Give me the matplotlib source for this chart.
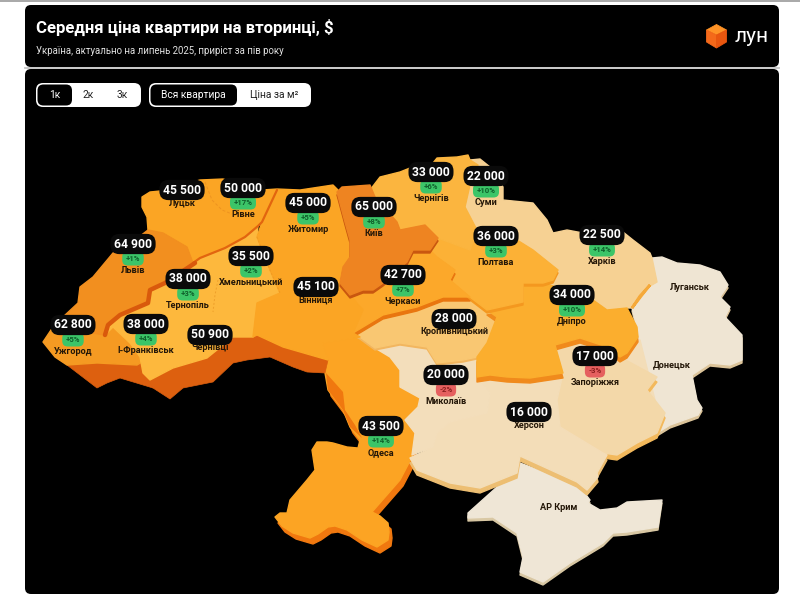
import matplotlib
matplotlib.use("Agg")
import matplotlib.pyplot as plt
from matplotlib.patches import FancyBboxPatch, Polygon

plt.rcParams["font.family"] = ["Roboto", "DejaVu Sans"]

# Label data
cities = ["Луцьк", "Рівне", "Житомир", "Київ", "Чернігів", "Суми", "Львів", "Хмельницький",
          "Вінниця", "Тернопіль", "Черкаси", "Полтава", "Харків", "Дніпро", "Кропивницький",
          "Ужгород", "І-Франківськ", "Чернівці", "Запоріжжя", "Миколаїв", "Херсон", "Одеса"]
prices = ["45 500", "50 000", "45 000", "65 000", "33 000", "22 000", "64 900", "35 500",
          "45 100", "38 000", "42 700", "36 000", "22 500", "34 000", "28 000",
          "62 800", "38 000", "50 900", "17 000", "20 000", "16 000", "43 500"]
growth = [None, 17, 5, 8, 6, 10, 1, 2, None, 3, 7, 3, 14, 10, None,
          5, 4, None, -3, -2, None, 14]
label_x = [182, 243, 308, 374, 431, 486, 133, 251, 316, 188, 403, 496, 602, 572, 454,
           73, 146, 210, 595, 446, 529, 381]
label_y = [190, 188, 203, 207, 172, 176, 244, 256, 287, 279, 275, 236, 235, 295, 319,
           325, 324, 335, 356, 375, 412, 426]
nodata_names = ["Луганськ", "Донецьк", "АР Крим"]
nodata_x = [690, 672, 559]
nodata_y = [288, 365, 508]

# Map outlines, in picture pixels
volyn_rivne = [(142, 197), (150, 192), (160, 191), (178, 186), (200, 180), (223, 179), (262, 190), (277, 190),
               (262, 222), (258, 226), (245, 237), (225, 248), (200, 258), (193, 263), (187, 247), (163, 233),
               (148, 230), (147, 217), (142, 207)]
lviv = [(148, 230), (163, 233), (187, 247), (193, 263), (165, 283), (150, 290), (148, 303), (120, 315),
        (108, 325), (105, 335), (53, 327), (63, 317), (78, 303), (80, 287), (93, 277), (113, 253), (135, 240)]
zakarpattia = [(43, 342), (53, 327), (105, 335), (113, 327), (130, 343), (140, 357), (142, 362), (137, 365),
               (97, 363), (67, 365), (55, 357)]
podillia = [(108, 325), (120, 315), (148, 303), (150, 290), (165, 283), (193, 264), (200, 258), (225, 248),
            (245, 237), (258, 226), (257, 237), (270, 270), (280, 293), (257, 303), (253, 337), (233, 337),
            (207, 358), (173, 368), (150, 380), (143, 373), (140, 357), (130, 343), (113, 327), (105, 335)]
zhytomyr_vinnytsia = [(262, 190), (277, 189), (300, 190), (333, 185), (338, 190), (345, 222), (350, 240),
                      (350, 257), (343, 267), (340, 283), (350, 295), (363, 310), (353, 333), (360, 337),
                      (322, 343), (328, 360), (283, 347), (257, 335), (253, 337), (257, 303), (280, 293),
                      (270, 270), (257, 237), (262, 222)]
kyiv = [(337, 192), (342, 187), (370, 185), (375, 197), (397, 222), (400, 230), (425, 225), (438, 238),
        (430, 250), (413, 250), (407, 262), (383, 283), (373, 290), (363, 290), (350, 295), (340, 283),
        (343, 267), (350, 257), (350, 240), (345, 222)]
chernihiv = [(370, 190), (380, 177), (400, 172), (410, 168), (433, 163), (437, 158), (457, 157), (468, 155),
             (470, 160), (478, 165), (470, 185), (465, 207), (477, 230), (470, 250), (438, 238), (425, 225),
             (400, 230), (397, 222), (375, 197)]
poltava = [(477, 230), (517, 240), (533, 250), (558, 270), (553, 280), (543, 283), (523, 283), (523, 302),
           (487, 310), (470, 297), (450, 280), (455, 270), (437, 257), (430, 250), (438, 238), (470, 250)]
cherkasy = [(413, 250), (430, 250), (437, 257), (455, 270), (450, 280), (470, 297), (443, 297), (417, 307),
            (383, 315), (353, 333), (363, 310), (350, 295), (363, 290), (373, 290), (383, 283), (407, 262)]
kirovohrad = [(353, 333), (383, 315), (417, 307), (443, 297), (470, 297), (487, 310), (497, 317), (487, 343),
              (477, 357), (463, 360), (437, 363), (427, 347), (400, 343), (375, 348), (360, 337)]
dnipro = [(487, 310), (523, 302), (523, 283), (550, 285), (593, 300), (607, 310), (627, 308), (637, 327),
          (638, 337), (627, 353), (620, 357), (607, 347), (580, 338), (555, 345), (563, 373), (530, 378),
          (507, 377), (490, 375), (477, 377), (477, 357), (487, 343), (497, 317)]
sumy_kharkiv = [(470, 160), (480, 159), (490, 167), (503, 187), (503, 200), (533, 203), (547, 220), (553, 233),
                (567, 230), (583, 233), (623, 232), (633, 240), (650, 253), (652, 258), (657, 282), (643, 290),
                (632, 308), (627, 308), (607, 310), (593, 300), (550, 285), (543, 283), (553, 280), (558, 270),
                (533, 250), (517, 240), (477, 230), (465, 207), (470, 185), (478, 165)]
east = [(652, 258), (662, 257), (677, 263), (700, 265), (720, 272), (728, 285), (720, 297), (730, 307),
        (725, 317), (742, 335), (742, 360), (730, 365), (710, 363), (692, 375), (695, 390), (697, 400),
        (702, 408), (698, 415), (670, 425), (657, 433), (665, 413), (663, 413), (647, 390), (657, 380),
        (627, 358), (638, 337), (637, 327), (632, 308), (643, 290), (657, 282)]
zaporizhzhia = [(555, 345), (580, 338), (607, 347), (620, 357), (657, 377), (647, 390), (665, 413), (657, 433),
                (637, 443), (617, 455), (603, 453), (560, 427), (557, 400), (563, 373)]
kherson = [(477, 377), (490, 375), (530, 378), (563, 373), (557, 400), (560, 427), (603, 453), (607, 455),
           (597, 473), (598, 477), (587, 490), (577, 482), (520, 456), (517, 473), (480, 488), (450, 483),
           (417, 470), (410, 458), (433, 447), (437, 433), (450, 422), (487, 413), (490, 393)]
mykolaiv = [(375, 348), (400, 343), (427, 347), (437, 363), (463, 360), (477, 357), (477, 377), (490, 393),
            (487, 413), (450, 422), (437, 433), (433, 447), (412, 455), (415, 433), (405, 420), (418, 407),
            (420, 398), (400, 387), (400, 370), (390, 357)]
odesa = [(322, 343), (360, 337), (375, 348), (390, 357), (400, 370), (400, 387), (420, 398), (418, 407),
         (405, 420), (415, 433), (412, 457), (400, 480), (372, 512), (380, 516), (388, 523), (389, 532), (388, 540),
         (377, 547), (362, 540), (347, 530), (335, 526), (328, 527), (318, 534), (310, 538), (293, 533), (282, 526),
         (275, 517), (280, 513), (287, 513), (290, 500), (307, 480), (315, 470), (312, 450), (317, 442), (327, 442),
         (333, 443), (347, 447), (358, 448), (360, 440), (350, 427), (343, 410), (328, 390), (325, 373), (328, 360)]
crimea = [(520, 463), (560, 478), (580, 487), (590, 500), (588, 503), (600, 510), (617, 508), (627, 502),
          (662, 500), (660, 513), (658, 527), (627, 532), (613, 533), (603, 543), (570, 563), (543, 582),
          (520, 572), (523, 557), (517, 533), (493, 517), (468, 518), (468, 513), (497, 487), (517, 477)]

fill_orange = [(262, 225), (340, 200), (365, 300), (370, 340), (395, 365), (400, 385), (330, 370), (255, 335)]
fill_pale = [(380, 350), (480, 350), (640, 340), (655, 400), (650, 430), (600, 450), (520, 450), (415, 450), (405, 400)]
carpathian_shadow_a = [(67, 365), (97, 363), (137, 365), (142, 362), (153, 388), (120, 378), (107, 383), (97, 388)]
carpathian_shadow_b = [(150, 380), (173, 368), (207, 358), (233, 337), (257, 335), (283, 347), (328, 360),
                       (325, 373), (307, 372), (293, 367), (270, 357), (247, 360), (233, 363), (213, 382),
                       (183, 388), (170, 399), (153, 388), (143, 373)]
odesa_shadow = [(326, 373), (335, 383), (343, 392), (345, 410), (355, 425), (362, 438), (350, 427), (343, 410),
                (328, 390)]
ridge_main = [(277, 190), (262, 222), (258, 226), (245, 237), (225, 248), (200, 258), (193, 263)]
ridge_low = [(195, 263), (165, 283), (150, 290), (148, 303), (120, 315), (108, 325), (105, 335)]
border_volyn = [(205, 182), (212, 200), (222, 210), (232, 214)]
border_ternopil = [(218, 280), (215, 295), (213, 312)]
border_khmel = [(257, 237), (262, 250), (270, 270), (280, 293)]

DARK = "#DD600F"
fig = plt.figure(figsize=(8.0, 6.01), dpi=100, facecolor="white")
ax = fig.add_axes([0, 0, 1, 1])
ax.set_xlim(0, 800)
ax.set_ylim(601, 0)
ax.axis("off")


def panel(x0, y0, x1, y1, color, r=6, z=1, **kw):
    ax.add_patch(FancyBboxPatch((x0 + r, y0 + r), x1 - x0 - 2 * r, y1 - y0 - 2 * r,
                                boxstyle=f"round,pad={r},rounding_size={r}",
                                fc=color, ec="none", zorder=z, **kw))


def region(points, color, shadow=None, dy=5, dx=0):
    if shadow:
        moved = [(x + dx, y + dy) for x, y in points]
        ax.add_patch(Polygon(moved, closed=True, fc=shadow, ec=shadow, lw=1, joinstyle="round", zorder=2))
    ax.add_patch(Polygon(points, closed=True, fc=color, ec=color, lw=1, joinstyle="round", zorder=2))


def thin_line(points, color, lw=0.7, ls="-"):
    xs, ys = zip(*points)
    ax.plot(xs, ys, color=color, lw=lw, ls=ls, solid_capstyle="round", zorder=3)


# Page and panels
ax.plot([0, 800], [0.8, 0.8], color="#a8a8a8", lw=1.4, zorder=1)
ax.plot([25, 779], [68, 68], color="#c4c4c4", lw=1.3, zorder=1)
panel(25, 5, 779, 67, "black")
panel(25, 69, 779, 594, "black")

ax.text(36, 27, "Середня ціна квартири на вторинці, $", color="white", fontsize=12.1,
        fontweight="bold", va="center", ha="left", zorder=5)
ax.text(36, 50.5, "Україна, актуально на липень 2025, приріст за пів року", color="#e0e0e0",
        fontsize=6.9, va="center", ha="left", zorder=5)

# Logo
cx, cy = 716.5, 36
ax.add_patch(Polygon([(cx, cy - 11.5), (cx + 10, cy - 6), (cx, cy - 1), (cx - 10, cy - 6)], fc="#FF9326", ec="#FF9326", lw=0.6, zorder=3))
ax.add_patch(Polygon([(cx - 10, cy - 6), (cx, cy - 1), (cx, cy + 12), (cx - 10, cy + 6)], fc="#F4691A", ec="#F4691A", lw=0.6, zorder=3))
ax.add_patch(Polygon([(cx + 10, cy - 6), (cx, cy - 1), (cx, cy + 12), (cx + 10, cy + 6)], fc="#E9560F", ec="#E9560F", lw=0.6, zorder=3))
ax.text(752, 36, "лун", color="white", fontsize=15, ha="center", va="center", zorder=5)

# Toggles
panel(36, 83, 141, 107, "white", r=7, z=2)
panel(37.5, 84.5, 72, 105.5, "black", r=6, z=3)
panel(149, 83, 311, 107, "white", r=7, z=2)
panel(150.5, 84.5, 237, 105.5, "black", r=6, z=3)
for label, x, col in [("1к", 55, "white"), ("2к", 88, "#222222"), ("3к", 122, "#222222"),
                      ("Вся квартира", 193, "white"), ("Ціна за м²", 274, "#222222")]:
    ax.text(x, 95, label, color=col, fontsize=7.4, ha="center", va="center", zorder=5)

# Map, low layers first
region(crimea, "#EFE6D6", "#D9C8A4", dy=3)
region(east, "#EFE5D3", "#DCC49A", dy=3)
region(fill_pale, "#F3DDB8")
region(fill_orange, "#FBA524")
region(odesa, "#FCA423", "#F0780F", dy=6, dx=3)
# shadows of the pale oblasts first so they do not show on each other
ax.add_patch(Polygon([(x, y + 5) for x, y in zaporizhzhia], fc="#F3B95C", ec="#F3B95C", lw=1, zorder=2))
ax.add_patch(Polygon([(x, y + 5) for x, y in kherson], fc="#EDBE72", ec="#EDBE72", lw=1, zorder=2))
region(zaporizhzhia, "#F3D8A9")
region(kherson, "#F3DDB8")
region(mykolaiv, "#F3DEBB")
ax.add_patch(Polygon(odesa_shadow, fc="#F0780F", ec="none", zorder=3))
region(sumy_kharkiv, "#F6D193")
ax.add_patch(Polygon([(650, 285), (642, 295), (632, 308), (640, 296)], fc="#F5A93A", ec="#F5A93A", lw=2, zorder=3))
region(kirovohrad, "#F9C772", "#F2B65F", dy=2)
region(dnipro, "#FBAE2E", "#F08A1C", dy=5)
region(poltava, "#FCB136", "#F4981F", dy=3)
region(chernihiv, "#FBB53F")
region(cherkasy, "#FCA82A", "#E9760F", dy=4)
ax.add_patch(Polygon(carpathian_shadow_a, fc=DARK, ec=DARK, lw=0.5, zorder=2))
ax.add_patch(Polygon(carpathian_shadow_b, fc=DARK, ec=DARK, lw=0.5, zorder=2))
region(zakarpattia, "#F59A22")
region(podillia, "#FDB83D")
region(zhytomyr_vinnytsia, "#FBA524")
region(kyiv, "#EE8421", "#C9570F", dy=3)
region(volyn_rivne, "#FBA524")
region(lviv, "#F28F1F")

thin_line(ridge_main, "#E2650F", lw=1.6)
thin_line(ridge_low, "#D9590C", lw=3.2)
thin_line(border_volyn, "#EE9420", ls=(0, (3, 2)))
thin_line(border_ternopil, "#EE9F2A", ls=(0, (2, 2)))
thin_line(border_khmel, "#F09A22", ls=(0, (2, 2)))

# Labels
for name, price, pct, x, y in zip(cities, prices, growth, label_x, label_y):
    ax.text(x, y, price, color="white", fontsize=8.7, fontweight="bold", ha="center", va="center", zorder=7,
            bbox=dict(boxstyle="round,pad=0.3,rounding_size=0.75", fc="#0a0a0a", ec="none"))
    if pct is None:
        name_y = y + 13
    else:
        pos = pct > 0
        ax.text(x, y + 14.5, f"{'+' if pos else '-'}{abs(pct)}%", color="#0F5F2B" if pos else "#8A1F1F",
                fontsize=5.6, fontweight="bold", ha="center", va="center", zorder=6,
                bbox=dict(boxstyle="round,pad=0.45,rounding_size=0.7", fc="#3CC568" if pos else "#E5605F",
                          ec="none"))
        name_y = y + 26.5
    ax.text(x, name_y, name, color="#241708", fontsize=6.6, fontweight="bold", ha="center", va="center", zorder=6)

for name, x, y in zip(nodata_names, nodata_x, nodata_y):
    ax.text(x, y, name, color="#241708", fontsize=6.6, fontweight="bold", ha="center", va="center", zorder=6)

fig.savefig("out.png", dpi=100, facecolor="white")
